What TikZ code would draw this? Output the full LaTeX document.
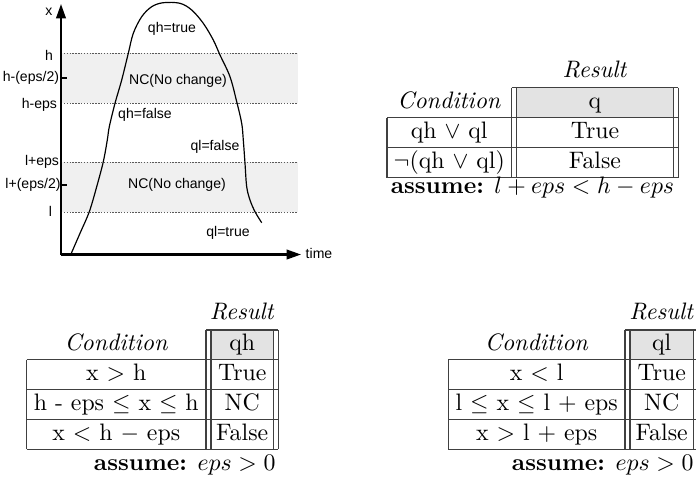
\documentclass[tikz,border=0pt]{standalone}
\usepackage{fontspec}
\newfontfamily\chartfont{Liberation Sans}
\usetikzlibrary{arrows.meta}
\begin{document}
\begin{tikzpicture}[x=0.42pt,y=-0.42pt,
  lbl/.style={font=\chartfont\fontsize{5.9}{7}\selectfont, inner sep=0},
  cell/.style={inner sep=0, text height=7pt, text depth=2pt, font=\fontsize{10}{12}\selectfont},
  tline/.style={draw=black!75, line width=0.45pt},
  band/.style={fill=black!6},
  dotline/.style={draw=black!65, line width=0.4pt, dash pattern=on 0.6pt off 0.6pt},
  axis/.style={line width=0.85pt, -{Triangle[length=6pt,width=4pt]}},
  hdr/.style={fill=black!11},
  curve/.style={line width=0.5pt}]

\useasboundingbox (0,0) rectangle (696,480);

% ---------------- chart ----------------
\fill[band] (61,53) rectangle (298,103);
\fill[band] (61,162) rectangle (298,212);
\coordinate (hA) at (61,53);  \coordinate (hB) at (298,53);
\coordinate (heA) at (61,103); \coordinate (heB) at (298,103);
\coordinate (leA) at (61,162); \coordinate (leB) at (298,162);
\coordinate (lA) at (61,212);  \coordinate (lB) at (298,212);
\draw[dotline] (hA) -- (hB);
\draw[dotline] (heA) -- (heB);
\draw[dotline] (leA) -- (leB);
\draw[dotline] (lA) -- (lB);

\coordinate (O) at (61,254.5);
\coordinate (Ytop) at (61,4);
\coordinate (Xend) at (301,254.5);
\draw[axis] (O) -- (Ytop);
\draw[axis] (60.5,254.5) -- (Xend);

\coordinate (t1a) at (61,78); \coordinate (t1b) at (67,78);
\coordinate (t2a) at (61,185); \coordinate (t2b) at (67,185);
\draw[line width=0.5pt] (t1a) -- (t1b);
\draw[line width=0.5pt] (t2a) -- (t2b);

\draw[curve] plot[smooth, tension=0.55] coordinates {
 (71,254) (80,233.3) (89.3,211.7) (96.7,186.7) (103.3,161.7) (107.3,140)
 (109.3,126.7) (115,103.3) (121.7,80) (128.3,53.3) (133.3,33.3) (141.7,16.7)
 (151.7,6.7) (163.3,2.7) (180,3.3) (191.7,10) (203.3,23.3) (213.3,40)
 (220,55) (230,76.7) (236.7,101.7) (241.7,123.3) (243.3,140) (245,163.3)
 (246.7,186.7) (250,200) (255,211.7) (261.7,222.7)};

\node[lbl] (xlab) at (49,12) {x};
\node[lbl] (timelab) at (319,253) {time};
\node[lbl, anchor=east] (lh) at (53.5,55) {h};
\node[lbl, anchor=east] (lh2) at (59.5,78) {h-(eps/2)};
\node[lbl, anchor=east] (lhe) at (57.5,105) {h-eps};
\node[lbl, anchor=east] (lle) at (59.5,162) {l+eps};
\node[lbl, anchor=east] (ll2) at (61,185) {l+(eps/2)};
\node[lbl, anchor=east] (ll) at (52.5,211) {l};

\node[lbl] (qht) at (172,29) {qh=true};
\node[lbl] (nc1) at (178,81) {NC(No change)};
\node[lbl] (qhf) at (145,115) {qh=false};
\node[lbl] (qlf) at (215,147) {ql=false};
\node[lbl] (nc2) at (177,185) {NC(No change)};
\node[lbl] (qlt) at (228,233) {ql=true};

% ---------------- table q (top right) ----------------
\fill[hdr] (516.5,87.7) rectangle (673.3,117.7);
\draw[tline] (511.5,87.7) -- (678.3,87.7);
\foreach \yy in {117.7,147.7,177.7} \draw[tline] (387,\yy) -- (678.3,\yy);
\draw[tline] (387,117.7) -- (387,177.7);
\foreach \xx in {511.5,516.5,673.3,678.3} \draw[tline] (\xx,87.7) -- (\xx,177.7);
\node[cell] (aRes) at (595,72) {\textit{Result}};
\node[cell] (aCond) at (449.2,102.7) {\textit{Condition}};
\node[cell] (aQ) at (595,102.7) {q};
\node[cell] (aC1) at (449.2,132.7) {qh $\vee$ ql};
\node[cell] (aR1) at (595,132.7) {True};
\node[cell] (aC2) at (449.2,162.7) {$\neg$(qh $\vee$ ql)};
\node[cell] (aR2) at (595,162.7) {False};
\node[cell] (aAs) at (532.5,188) {\textbf{assume:} $l + eps < h - eps$};

% ---------------- table qh (bottom left) ----------------
\fill[hdr] (211,330) rectangle (273.3,359.8);
\draw[tline] (206,330) -- (278.3,330);
\foreach \yy in {359.8,389.6,419.4,449.2} \draw[tline] (26.7,\yy) -- (278.3,\yy);
\draw[tline] (26.7,359.8) -- (26.7,449.2);
\foreach \xx in {206,211,273.3,278.3} \draw[tline] (\xx,330) -- (\xx,449.2);
\node[cell] (bRes) at (242.2,314) {\textit{Result}};
\node[cell] (bCond) at (116.3,345) {\textit{Condition}};
\node[cell] (bQ) at (242.2,345) {qh};
\node[cell] (bC1) at (116.3,374.7) {x $>$ h};
\node[cell] (bR1) at (242.2,374.7) {True};
\node[cell] (bC2) at (116.3,404.5) {h - eps $\leq$ x $\leq$ h};
\node[cell] (bR2) at (242.2,404.5) {NC};
\node[cell] (bC3) at (116.3,434.3) {x $<$ h $-$ eps};
\node[cell] (bR3) at (242.2,434.3) {False};
\node[cell, anchor=east] (bAs) at (276,465) {\textbf{assume:} $eps > 0$};

% ---------------- table ql (bottom right) ----------------
\fill[hdr] (630,330) rectangle (693.3,359.8);
\draw[tline] (625,330) -- (698.3,330);
\foreach \yy in {359.8,389.6,419.4,449.2} \draw[tline] (448.3,\yy) -- (698.3,\yy);
\draw[tline] (448.3,359.8) -- (448.3,449.2);
\foreach \xx in {625,630,693.3,698.3} \draw[tline] (\xx,330) -- (\xx,449.2);
\node[cell] (cRes) at (661.7,314) {\textit{Result}};
\node[cell] (cCond) at (536.7,345) {\textit{Condition}};
\node[cell] (cQ) at (661.7,345) {ql};
\node[cell] (cC1) at (536.7,374.7) {x $<$ l};
\node[cell] (cR1) at (661.7,374.7) {True};
\node[cell] (cC2) at (536.7,404.5) {l $\leq$ x $\leq$ l + eps};
\node[cell] (cR2) at (661.7,404.5) {NC};
\node[cell] (cC3) at (536.7,434.3) {x $>$ l + eps};
\node[cell] (cR3) at (661.7,434.3) {False};
\node[cell, anchor=east] (cAs) at (694,465) {\textbf{assume:} $eps > 0$};
\end{tikzpicture}
\end{document}
